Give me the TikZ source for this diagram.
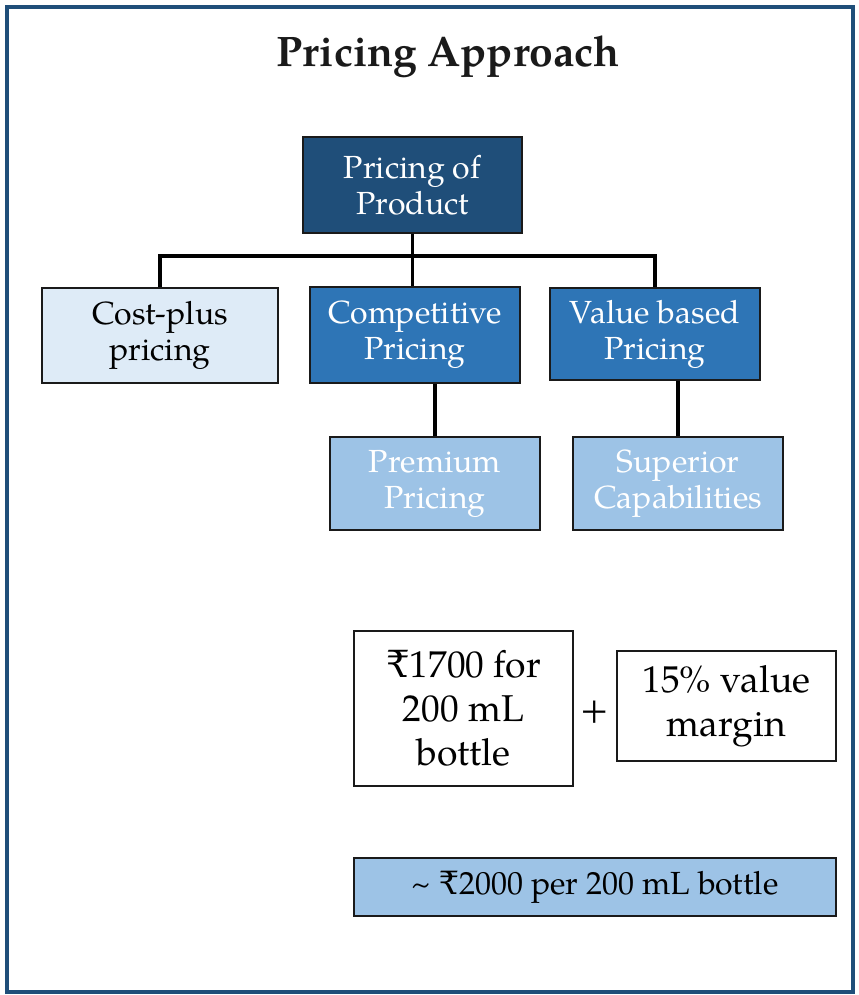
\documentclass[tikz,border=0pt]{standalone}
\usepackage{fontspec}
\setmainfont{TeX Gyre Pagella}
\newfontfamily\rupfont{DejaVu Serif}
\newcommand{\rupeesign}{{\rupfont ₹}}

\definecolor{frameblue}{HTML}{1F4E79}
\definecolor{darkblue}{HTML}{1F4E79}
\definecolor{midblue}{HTML}{2E75B6}
\definecolor{softblue}{HTML}{9DC3E6}
\definecolor{paleblue}{HTML}{DEEBF7}
\definecolor{inkgray}{HTML}{1A1A1A}

\tikzset{
  box/.style={draw=inkgray, line width=1.5pt, rectangle, align=center, inner sep=0pt,
    font=\fontsize{24}{27}\selectfont},
  sz/.style 2 args={minimum width=#1*0.75pt, minimum height=#2*0.75pt},
  rootbox/.style={box, fill=darkblue, text=white},
  midbox/.style={box, fill=midblue, text=white},
  softbox/.style={box, fill=softblue, text=white},
  palebox/.style={box, fill=paleblue, text=black},
  plainbox/.style={box, fill=white, text=black, font=\fontsize{28}{33}\selectfont},
  link/.style={draw=black, line width=2.8pt},
}

\begin{document}
\begin{tikzpicture}[x=0.75pt, y=-0.75pt]
  \useasboundingbox (0,0) rectangle (858,995);
  % outer frame
  \draw[frameblue, line width=3pt] (7,7) rectangle (853,992);

  % title
  \node[font=\bfseries\fontsize{32}{36}\selectfont, text=inkgray, anchor=base] (title) at (448,67) {Pricing Approach};

  % hierarchy
  \node[rootbox, sz={219}{96}] (root) at (412.5,185) {Pricing of\\Product};
  \node[palebox, sz={236}{95}] (cost) at (160,335.5) {Cost-plus\\pricing};
  \node[midbox, sz={210}{96}] (comp) at (415,335) {Competitive\\Pricing};
  \node[midbox, sz={210}{92}] (value) at (655,334) {Value based\\Pricing};
  \node[softbox, sz={210}{93}] (prem) at (435,483.5) {Premium\\Pricing};
  \node[softbox, sz={210}{93}] (sup) at (678,483.5) {Superior\\Capabilities};

  \coordinate (bus) at (413,256);
  \draw[link] (root.south) -- (root.south |- comp.north);
  \draw[link] (cost.north) |- (bus);
  \draw[link] (bus) -| (value.north);
  \draw[link] (prem.north) -- (prem.north |- comp.south);
  \draw[link] (sup.north) -- (sup.north |- value.south);

  % price build-up
  \node[plainbox, sz={219}{155}] (base) at (463.5,708.5) {\rupeesign1700 for\\200 mL\\bottle};
  \node[plainbox, sz={219}{110}] (margin) at (726.5,706) {15\% value\\margin};
  \node[font=\fontsize{28}{33}\selectfont] (plus) at (595,712) {+};
  \node[box, fill=softblue, text=black, sz={482}{58}, font=\fontsize{24}{27}\selectfont] (total) at (595,887) {\textasciitilde{} \rupeesign2000 per 200 mL bottle};
\end{tikzpicture}
\end{document}
